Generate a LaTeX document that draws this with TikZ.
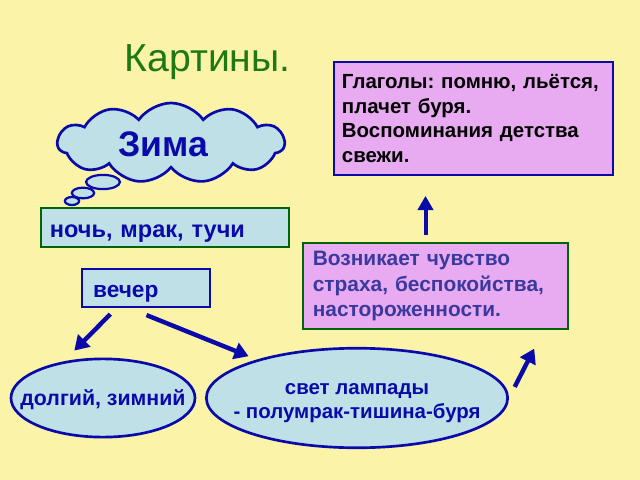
\documentclass[tikz,border=0pt]{standalone}
\usepackage{fontspec}
\setmainfont{Liberation Sans}
\usepackage{xcolor}
\usetikzlibrary{shapes.geometric,shapes.symbols,arrows.meta,calc}
\definecolor{slide}{RGB}{251,243,168}
\definecolor{paleblue}{RGB}{190,224,230}
\definecolor{violetfill}{RGB}{232,170,240}
\definecolor{boxblue}{RGB}{10,10,170}
\definecolor{boxgreen}{RGB}{0,100,10}
\definecolor{titlegreen}{RGB}{30,120,20}
\definecolor{slatetext}{RGB}{58,58,158}
\newcommand\boxfont[2][28]{\frenchspacing\bfseries\fontsize{#2}{#1}\selectfont}
\tikzset{
  txtbox/.style={rectangle, line width=3pt, align=left, font=\boxfont{23},
                 inner xsep=10pt, inner ysep=0pt},
  bluebox/.style={txtbox, draw=boxblue},
  greenbox/.style={txtbox, draw=boxgreen},
  ovalbox/.style={ellipse, draw=boxblue, line width=3pt, fill=paleblue, inner sep=0pt},
  ovaltext/.style={align=center, font=\boxfont{24}, text=boxblue},
  bubble/.style={draw=boxblue, line width=2.5pt, fill=paleblue},
  flowarr/.style={-{Triangle[length=16pt,width=19pt]}, line width=5pt, draw=boxblue},
  uparr/.style={-{Triangle[length=16pt,width=17pt]}, line width=4.5pt, draw=boxblue},
}

\begin{document}
\begin{tikzpicture}[x=1.125pt, y=-1.125pt]
  \fill[slide] (0,0) rectangle (640,480);

  \node[anchor=base, text=titlegreen, font=\fontsize{44}{52}\selectfont] (title) at (207.5,72) {Картины.};

  % cloud with its thought bubbles
  \draw[bubble] (72,201) ellipse [x radius=8pt, y radius=4.5pt];
  \draw[bubble] (83,193) ellipse [x radius=12.5pt, y radius=6pt];
  \draw[bubble] (103,182) ellipse [x radius=19pt, y radius=8pt];
  \node[cloud, cloud puffs=11, cloud puff arc=110, aspect=2.8, draw=boxblue,
        line width=3pt, fill=paleblue, minimum width=255pt, minimum height=90pt,
        label={[xshift=-9pt, yshift=-1pt, font=\bfseries\fontsize{40}{48}\selectfont, text=boxblue]center:Зима}]
        (zima) at (171,143) {};

  \node[bluebox, fill=violetfill, text width=296pt, minimum height=127pt, inner xsep=9pt]
        (glag) at (473.5,118.5) {Глаголы: помню, льётся,\\плачет буря.\\Воспоминания детства\\свежи.};
  \node[greenbox, fill=paleblue, text=boxblue, text width=259pt, minimum height=44pt,
        font={\boxfont{26.5}}, text height=21.4pt, text depth=0pt]
        (noch) at (165,227.5) {ночь, мрак, тучи};
  \node[bluebox, fill=paleblue, text=boxblue, text width=119pt, minimum height=43pt, inner xsep=12.5pt,
        font={\boxfont{25.5}}, text height=22pt, text depth=0pt]
        (vecher) at (146,288) {вечер};
  \node[greenbox, fill=violetfill, text=slatetext, text width=276pt, minimum height=97pt, inner xsep=11pt,
        font={\boxfont[29]{23.5}}]
        (vozn) at (435.5,286) {Возникает чувство\\страха, беспокойства,\\настороженности.};

  \node[ovalbox, minimum width=207pt, minimum height=88pt,
        label={[ovaltext, yshift=-2pt]center:долгий, зимний}] (dolg) at (103,398) {};
  \node[ovalbox, minimum width=339pt, minimum height=112pt,
        label={[ovaltext, font={\boxfont[27]{23}}, yshift=-5.5pt]center:свет лампады\\- полумрак-тишина-буря}] (lamp) at (357,398) {};

  \draw[flowarr, shorten <=9pt, shorten >=17pt] ($(vecher.south)+(-30,0)$) -- (dolg.137);
  \draw[flowarr, shorten <=20pt, shorten >=10pt] ($(vecher.south)+(-16,0)$) -- (lamp.159);
  \draw[flowarr, shorten <=14pt, shorten >=23pt] (lamp.east) -- ($(vozn.south)+(108,0)$);
  \draw[uparr, shorten <=7pt, shorten >=22pt] ($(vozn.north)+(-10,0)$) -- ($(glag.south)+(-48,0)$);
\end{tikzpicture}
\end{document}
